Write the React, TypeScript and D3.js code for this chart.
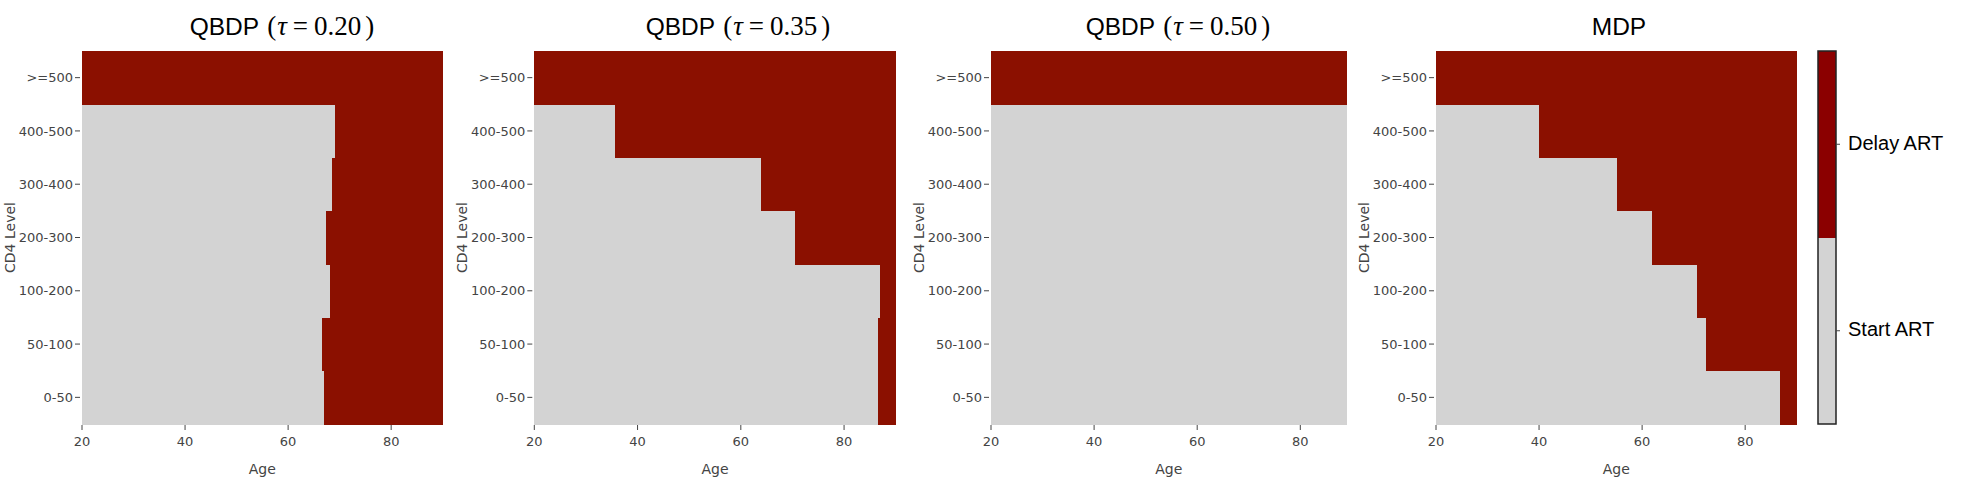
import React from "react";
import * as d3 from "d3";

// ---------- data ----------
const cd4Levels = ["0-50", "50-100", "100-200", "200-300", "300-400", "400-500", ">=500"];
const ageTicks = [20, 40, 60, 80];
// Age from which the policy switches to "Delay ART" for each CD4 level (null = never)
const qbdp020Delay: (number | null)[] = [67.0, 66.6, 68.1, 67.4, 68.5, 69.1, 20];
const qbdp035Delay: (number | null)[] = [86.6, 86.6, 87.0, 70.5, 64.0, 35.6, 20];
const qbdp050Delay: (number | null)[] = [null, null, null, null, null, null, 20];
const mdpDelay: (number | null)[] = [86.7, 72.4, 70.6, 62.0, 55.1, 40.0, 20];
const policyLabels = ["Start ART", "Delay ART"];
const tauValues = ["0.20", "0.35", "0.50"];

// ---------- layout ----------
const W = 1966;
const H = 489;
const TOP = 51;
const BOTTOM = 424;
const GREY = "#d3d3d3";
const RED = "#8b1000";
const CB_RED = "#8b0000";
const AXIS_COLOR = "#444";
const SERIF = "Liberation Serif, Times New Roman, serif";
const SANS = "Liberation Sans, Arial, sans-serif";
const TICKFONT = "DejaVu Sans, Verdana, sans-serif";

const panels = [
  { kind: "qbdp", tau: tauValues[0], data: qbdp020Delay, left: 82, right: 442.7, ageMax: 90, titleCx: 282 },
  { kind: "qbdp", tau: tauValues[1], data: qbdp035Delay, left: 534.3, right: 895.7, ageMax: 90, titleCx: 738 },
  { kind: "qbdp", tau: tauValues[2], data: qbdp050Delay, left: 991, right: 1346.7, ageMax: 89, titleCx: 1178 },
  { kind: "mdp", tau: "", data: mdpDelay, left: 1436, right: 1796.7, ageMax: 90, titleCx: 1619 },
];

const yScale = d3
  .scaleBand<string>()
  .domain([...cd4Levels].reverse())
  .range([TOP, BOTTOM])
  .padding(0);

function Title({ p }: { p: (typeof panels)[number] }) {
  if (p.kind === "mdp") {
    return (
      <text x={p.titleCx} y={34.5} textAnchor="middle" fontFamily={SANS} fontSize={24.5} fill="#000">
        MDP
      </text>
    );
  }
  return (
    <text x={p.titleCx} y={34.5} textAnchor="middle" fontSize={24.5} fill="#000">
      <tspan fontFamily={SANS}>QBDP</tspan>
      <tspan fontFamily={SERIF} fontSize={27} dx={8}>(</tspan>
      <tspan fontFamily={SERIF} fontStyle="italic" fontSize={27} dx={1}>τ</tspan>
      <tspan fontFamily={SERIF} fontSize={27} dx={6}>=</tspan>
      <tspan fontFamily={SERIF} fontSize={27} dx={6}>{p.tau}</tspan>
      <tspan fontFamily={SERIF} fontSize={27} dx={4}>)</tspan>
    </text>
  );
}

function Panel({ p }: { p: (typeof panels)[number] }) {
  const x = d3.scaleLinear().domain([20, p.ageMax]).range([p.left, p.right]);
  const bw = yScale.bandwidth();
  return (
    <g>
      <Title p={p} />
      <g shapeRendering="crispEdges">
        {cd4Levels.map((lvl, i) => {
          const t = p.data[i] == null ? p.ageMax : (p.data[i] as number);
          const y0 = yScale(lvl)!;
          return (
            <g key={lvl}>
              {t > 20 && (
                <rect x={x(20)} y={y0} width={x(t) - x(20)} height={bw + 0.5} fill={GREY} />
              )}
              {t < p.ageMax && (
                <rect x={x(t)} y={y0} width={x(p.ageMax) - x(t)} height={bw + 0.5} fill={RED} />
              )}
            </g>
          );
        })}
      </g>
      {/* y axis */}
      {cd4Levels.map((lvl) => {
        const yc = yScale(lvl)! + bw / 2;
        return (
          <g key={"yt" + lvl}>
            <line x1={p.left - 7} x2={p.left - 2} y1={yc} y2={yc} stroke={AXIS_COLOR} strokeWidth={1} />
            <text x={p.left - 9} y={yc} dy="0.36em" textAnchor="end" fontFamily={TICKFONT} fontSize={13} fill={AXIS_COLOR}>
              {lvl}
            </text>
          </g>
        );
      })}
      <text
        transform={`translate(${p.left - 72.5},${(TOP + BOTTOM) / 2}) rotate(-90)`}
        textAnchor="middle"
        dy="0.36em"
        fontFamily={TICKFONT}
        fontSize={14}
        fill={AXIS_COLOR}
      >
        CD4 Level
      </text>
      {/* x axis */}
      {ageTicks.map((t) => (
        <g key={"xt" + t}>
          <line x1={x(t)} x2={x(t)} y1={BOTTOM + 1} y2={BOTTOM + 6} stroke={AXIS_COLOR} strokeWidth={1} />
          <text x={x(t)} y={BOTTOM + 22} textAnchor="middle" fontFamily={TICKFONT} fontSize={13} fill={AXIS_COLOR}>
            {t}
          </text>
        </g>
      ))}
      <text
        x={(p.left + p.right) / 2}
        y={BOTTOM + 49.5}
        textAnchor="middle"
        fontFamily={TICKFONT}
        fontSize={14}
        fill={AXIS_COLOR}
      >
        Age
      </text>
    </g>
  );
}

function ColorBar() {
  const cbLeft = 1818;
  const cbRight = 1836;
  const cb = d3.scaleBand<string>().domain([...policyLabels].reverse()).range([TOP, BOTTOM]);
  const colors: Record<string, string> = { "Start ART": GREY, "Delay ART": CB_RED };
  return (
    <g>
      <g shapeRendering="crispEdges">
        {policyLabels.map((lbl) => (
          <rect key={lbl} x={cbLeft} y={cb(lbl)!} width={cbRight - cbLeft} height={cb.bandwidth()} fill={colors[lbl]} />
        ))}
      </g>
      <rect x={cbLeft} y={TOP} width={cbRight - cbLeft} height={BOTTOM - TOP} fill="none" stroke="#222" strokeWidth={1.5} />
      {policyLabels.map((lbl) => {
        const yc = cb(lbl)! + cb.bandwidth() / 2;
        return (
          <g key={"cbt" + lbl}>
            <line x1={cbRight} x2={cbRight + 4} y1={yc} y2={yc} stroke="#444" strokeWidth={1} />
            <text x={cbRight + 12} y={yc + 5.5} fontFamily={SANS} fontSize={20} fill="#000">
              {lbl}
            </text>
          </g>
        );
      })}
    </g>
  );
}

export default function App() {
  return (
    <svg
      width={W}
      height={H}
      viewBox={`0 0 ${W} ${H}`}
      style={{ position: "absolute", left: 0, top: 0, background: "#fff" }}
    >
      <rect x={0} y={0} width={W} height={H} fill="#fff" />
      {panels.map((p, i) => (
        <Panel key={i} p={p} />
      ))}
      <ColorBar />
    </svg>
  );
}
